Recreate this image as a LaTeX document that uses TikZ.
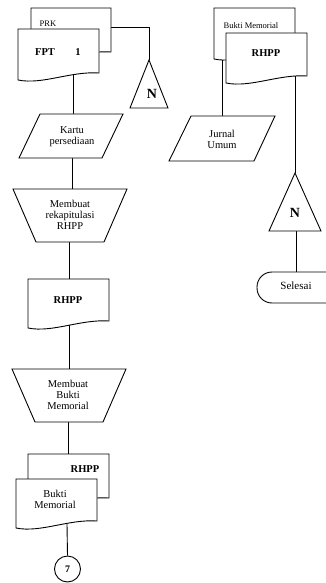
\documentclass[tikz,border=0pt]{standalone}
\usepackage{fontspec}
\setmainfont{Liberation Serif}
\tikzset{
  shp/.style={draw, fill=white, line width=0.9pt},
  conn/.style={draw, line width=0.9pt},
  lbl/.style={font=\fontsize{10.5}{11}\selectfont, align=center, inner sep=0pt},
  bold/.style={font=\fontsize{10.5}{11}\selectfont\bfseries, inner sep=0pt},
  small/.style={font=\fontsize{8.5}{9}\selectfont, align=center, inner sep=0pt},
  bigN/.style={font=\fontsize{14}{15}\selectfont\bfseries, inner sep=0pt}
}
\newcommand\docshape[4]{\draw[shp] (#1,#4) -- (#1,#2) -- (#3,#2) -- (#3,{#4-7}) .. controls ({#3-0.35*(#3-#1)},{#4-9}) and ({#1+0.3*(#3-#1)},{#4+5}) .. (#1,#4) -- cycle;}
\begin{document}
\begin{tikzpicture}[x=1pt,y=-1pt]
\useasboundingbox (0,0) rectangle (326,583);
\clip (0,0) rectangle (326,583);
\fill[white] (0,0) rectangle (326,583);

% connector coordinates
\coordinate (prkR) at (111,27);
\coordinate (t1top) at (149,60);
\coordinate (fptB) at (73,74);
\coordinate (kartuT) at (73,114);
\coordinate (kartuB) at (72,158);
\coordinate (trapaT) at (72,189);
\coordinate (trapaB) at (69,242);
\coordinate (rhppT) at (69,279);
\coordinate (rhppB) at (69,324);
\coordinate (trapbT) at (69,369);
\coordinate (trapbB) at (68,422);
\coordinate (backT) at (68,454);
\coordinate (bmB) at (67,524);
\coordinate (bmtopB) at (222,50);
\coordinate (jurnalT) at (222,116);
\coordinate (rhpprB) at (295,50);
\coordinate (t2top) at (295,173);
\coordinate (t2B) at (296,231);
\coordinate (selT) at (296,272);

% connectors
\draw[conn] (prkR) -| (t1top);
\draw[conn] (fptB) -- (kartuT);
\draw[conn] (kartuB) -- (trapaT);
\draw[conn] (trapaB) -- (rhppT);
\draw[conn] (rhppB) -- (trapbT);
\draw[conn] (trapbB) -- (backT);
\draw[conn] (bmtopB) -- (jurnalT);
\draw[conn] (rhpprB) -- (t2top);
\draw[conn] (t2B) -- (selT);

% left column shapes
\docshape{31}{8}{111}{59}
\docshape{18}{29}{99}{80}
\draw[shp] (40,114) -- (123,114) -- (102,158) -- (19,158) -- cycle;
\draw[shp] (13,189) -- (127,189) -- (104,242) -- (36,242) -- cycle;
\docshape{28}{279}{109}{328}
\draw[shp] (12,369) -- (126,369) -- (103,422) -- (35,422) -- cycle;
\docshape{28}{454}{109}{505}
\docshape{16}{479}{97}{528}
\node[shp, circle, minimum size=26pt, inner sep=0pt, font=\fontsize{10}{11}\selectfont\bfseries] (c7) at (67.5,569) {7};
\draw[conn] (bmB) -- (c7.north);
\draw[shp] (t1top) -- (168,108) -- (130,108) -- cycle;

% right column shapes
\docshape{214}{8}{295}{59}
\docshape{226}{33}{307}{83}
\draw[shp] (191,116) -- (275,116) -- (254,161) -- (169,161) -- cycle;
\draw[shp] (t2top) -- (321,231) -- (269,231) -- cycle;
\draw[shp, rounded corners=15pt] (257,272) rectangle (370,303);

% texts
\node[small] (prk) at (48,24) {PRK};
\node[bold] (fpt) at (45,52) {FPT};
\node[bold] (one) at (78,52) {1};
\node[bigN] (n1) at (152,94) {N};
\node[lbl] (kartu) at (72,137) {Kartu\\persediaan};
\node[lbl] (rekap) at (70,215) {Membuat\\rekapitulasi\\RHPP};
\node[bold] (rhpp1) at (68,300) {RHPP};
\node[lbl] (mbm) at (68,395) {Membuat\\Bukti\\Memorial};
\node[bold] (rhpp2) at (85,469) {RHPP};
\node[lbl] (bm) at (55,499) {Bukti\\Memorial};
\node[small] (bmtop) at (251,26) {Bukti Memorial};
\node[bold] (rhpp3) at (266,53) {RHPP};
\node[lbl] (jurnal) at (222,139) {Jurnal\\Umum};
\node[bigN] (n2) at (295,213) {N};
\node[lbl, font=\fontsize{11}{12}\selectfont] (selesai) at (296,286) {Selesai};
\end{tikzpicture}
\end{document}
